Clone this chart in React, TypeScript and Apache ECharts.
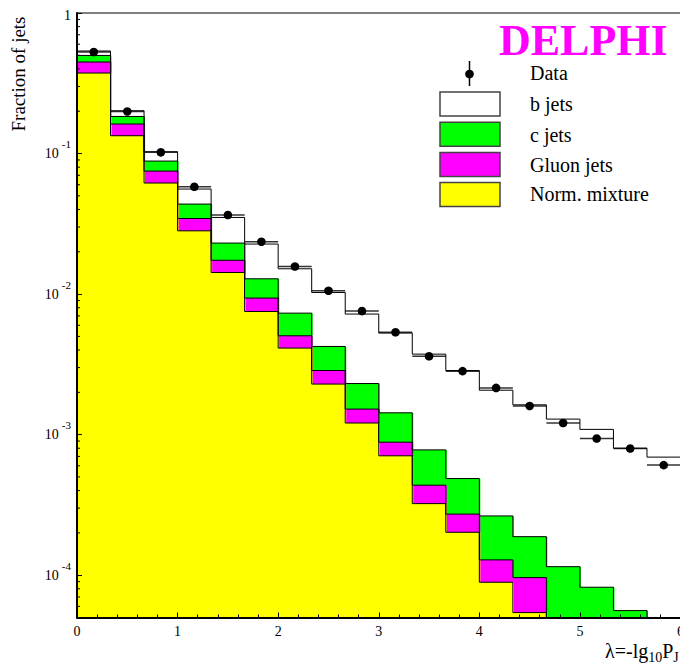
import { useEffect, useRef } from "react";
import * as echarts from "echarts";

// ---- data ----
const BIN_EDGES = [0, 1 / 3, 2 / 3, 1, 4 / 3, 5 / 3, 2, 7 / 3, 8 / 3, 3, 10 / 3, 11 / 3, 4, 13 / 3, 14 / 3, 5, 16 / 3, 17 / 3, 6];

// cumulative stacks (top of each coloured layer)
const B_JETS_TOTAL = [0.5365, 0.2016, 0.103, 0.0559, 0.0351, 0.0227, 0.01514, 0.01027, 0.00721, 0.00528, 0.00374, 0.00286, 0.00207, 0.00163, 0.00129, 0.00109, 0.000801, 0.000692];
const C_JETS_STACK = [0.499, 0.1836, 0.0884, 0.0437, 0.02307, 0.01285, 0.00732, 0.00424, 0.00231, 0.00143, 0.000779, 0.000487, 0.000264, 0.000188, 0.000115, 0.0000821, 0.000056, null];
const GLUON_STACK = [0.448, 0.1622, 0.075, 0.0345, 0.0174, 0.00937, 0.00505, 0.00286, 0.00152, 0.000884, 0.000437, 0.000272, 0.0001285, 0.0000961, null, null, null, null];
const NORM_MIXTURE = [0.374, 0.1339, 0.0617, 0.0282, 0.01425, 0.00752, 0.00413, 0.00229, 0.00121, 0.000707, 0.000323, 0.000202, 0.0000891, 0.0000542, null, null, null, null];
const DATA_VALUES = [0.528, 0.1993, 0.102, 0.058, 0.0365, 0.0236, 0.01572, 0.01056, 0.00757, 0.00535, 0.00361, 0.00283, 0.00215, 0.0016, 0.00121, 0.000938, 0.000796, 0.000607];

const LEGEND_LABELS = ["Data", "b jets", "c jets", "Gluon jets", "Norm. mixture"];
const Y_MIN = 5e-5;
const Y_MAX = 1;
const X_MIN = 0;
const X_MAX = 6;

const FONT = "Liberation Serif, Times New Roman, serif";
const WHITE = "#ffffff";
const GREEN = "#00ff00";
const MAGENTA = "#ff00ff";
const YELLOW = "#ffff00";

function minorYTicks(): number[] {
  const out: number[] = [];
  for (let e = -5; e <= -1; e++) {
    for (let m = 2; m <= 9; m++) {
      const v = m * Math.pow(10, e);
      if (v > Y_MIN && v < Y_MAX) out.push(v);
    }
  }
  return out;
}

function stepPoints(vals: (number | null)[]) {
  const pts: number[][] = [];
  vals.forEach((v, i) => {
    const y = v == null ? Y_MIN : v;
    pts.push([BIN_EDGES[i], y], [BIN_EDGES[i + 1], y]);
  });
  pts.push([BIN_EDGES[vals.length], Y_MIN]);
  return pts;
}

function fillSeries(vals: (number | null)[], color: string) {
  const data: number[][] = [];
  vals.forEach((v, i) => {
    if (v != null) data.push([BIN_EDGES[i], BIN_EDGES[i + 1], v]);
  });
  return {
    type: "custom",
    data,
    encode: { x: [0, 1], y: 2 },
    clip: true,
    silent: true,
    renderItem: (_p: any, api: any) => {
      const p0 = api.coord([api.value(0), api.value(2)]);
      const p1 = api.coord([api.value(1), Y_MIN]);
      return {
        type: "rect",
        // widened by 1px so neighbouring bins overlap and leave no seam
        shape: { x: p0[0], y: p0[1], width: p1[0] - p0[0] + 1, height: p1[1] - p0[1] },
        style: { fill: color },
      };
    },
  };
}

function outlineSeries(vals: (number | null)[]) {
  return {
    type: "line",
    data: stepPoints(vals),
    symbol: "none",
    showSymbol: false,
    silent: true,
    clip: true,
    lineStyle: { color: "#000", width: 1 },
  };
}

export default function App() {
  const ref = useRef<HTMLDivElement>(null);

  useEffect(() => {
    if (!ref.current) return;
    const chart = echarts.init(ref.current, undefined, { renderer: "svg" });

    const dataPoints = DATA_VALUES.map((v, i) => [
      (BIN_EDGES[i] + BIN_EDGES[i + 1]) / 2,
      v,
      BIN_EDGES[i],
      BIN_EDGES[i + 1],
    ]);

    const legendBoxes = [WHITE, GREEN, MAGENTA, YELLOW];
    const legendTextY = [73, 104, 135, 165, 194];

    const graphic: any[] = [
      {
        type: "text",
        x: 499,
        y: 40.5,
        style: {
          text: "DELPHI",
          fill: MAGENTA,
          font: `bold 44px ${FONT}`,
          lineHeight: 36,
          verticalAlign: "middle",
          align: "left",
        },
        z: 20,
      },
      {
        type: "line",
        shape: { x1: 469.5, y1: 61, x2: 469.5, y2: 86 },
        style: { stroke: "#000", lineWidth: 1.5 },
        z: 20,
      },
      {
        type: "circle",
        shape: { cx: 469.5, cy: 74, r: 4.3 },
        style: { fill: "#000" },
        z: 20,
      },
      ...legendBoxes.map((c, i) => ({
        type: "rect",
        shape: { x: 440, y: 92 + i * 30.2, width: 60, height: 24 },
        style: { fill: c, stroke: "#444", lineWidth: 1.5 },
        z: 20,
      })),
      ...LEGEND_LABELS.map((t, i) => ({
        type: "text",
        x: 530,
        y: legendTextY[i],
        style: { text: t, fill: "#000", font: `20px ${FONT}`, verticalAlign: "middle", align: "left" },
        z: 20,
      })),
      {
        type: "text",
        x: 18,
        y: 74,
        rotation: Math.PI / 2,
        style: { text: "Fraction of jets", fill: "#000", font: `19px ${FONT}`, align: "center", verticalAlign: "middle" },
        z: 20,
      },
      {
        type: "text",
        x: 605,
        y: 646,
        style: {
          text: "{n|λ=-lg}{s|10}{n|P}{s|J}",
          verticalAlign: "top",
          align: "left",
          rich: {
            n: { fontFamily: FONT, fontSize: 20, lineHeight: 20, padding: [0, 0, 11, 0], fill: "#000" },
            s: { fontFamily: FONT, fontSize: 14, lineHeight: 14, padding: [10, 0, 7, 0], fill: "#000" },
          },
        },
        z: 20,
      },
    ];

    const option: any = {
      animation: false,
      backgroundColor: "#fff",
      grid: {
        left: 77,
        top: 13,
        width: 603.5,
        height: 604.5,
        outerBoundsMode: "none",
        containLabel: false,
        show: true,
        borderColor: "#000",
        borderWidth: 1,
        backgroundColor: "transparent",
      },
      xAxis: {
        type: "value",
        min: X_MIN,
        max: X_MAX,
        interval: 1,
        z: 10,
        axisLine: { show: true, onZero: false, lineStyle: { color: "#000", width: 2 } },
        axisTick: { show: true, inside: true, length: 5, lineStyle: { color: "#000", width: 1 } },
        minorTick: { show: true, splitNumber: 5, length: 3, lineStyle: { color: "#000", width: 1 } },
        splitLine: { show: false },
        minorSplitLine: { show: false },
        axisLabel: { color: "#000", fontFamily: FONT, fontSize: 14, margin: 7 },
      },
      yAxis: {
        type: "log",
        logBase: 10,
        min: Y_MIN,
        max: Y_MAX,
        z: 10,
        axisLine: { show: true, onZero: false, lineStyle: { color: "#000", width: 2 } },
        axisTick: { show: true, inside: true, length: 5, lineStyle: { color: "#000", width: 1 } },
        splitLine: { show: false },
        axisLabel: {
          margin: 6,
          formatter: (v: number) => {
            const e = Math.log10(v);
            const r = Math.round(e);
            if (Math.abs(e - r) > 1e-6) return "";
            if (r === 0) return "{one|1}";
            return `{b|10}{s|${r}}`;
          },
          rich: {
            b: { fontFamily: FONT, fontSize: 14, lineHeight: 14, padding: [8, 0, 8, 0], color: "#000" },
            s: { fontFamily: FONT, fontSize: 11, lineHeight: 11, padding: [0, 0, 19, 3], color: "#000" },
            one: { fontFamily: FONT, fontSize: 14, lineHeight: 14, padding: [4, 0, 0, 0], color: "#000" },
          },
        },
      },
      series: [
        fillSeries(B_JETS_TOTAL, WHITE),
        outlineSeries(B_JETS_TOTAL),
        fillSeries(C_JETS_STACK, GREEN),
        outlineSeries(C_JETS_STACK),
        fillSeries(GLUON_STACK, MAGENTA),
        outlineSeries(GLUON_STACK),
        fillSeries(NORM_MIXTURE, YELLOW),
        outlineSeries(NORM_MIXTURE),
        {
          type: "custom",
          data: dataPoints,
          encode: { x: [0, 2, 3], y: 1 },
          clip: true,
          silent: true,
          renderItem: (_p: any, api: any) => {
            const c = api.coord([api.value(0), api.value(1)]);
            const a = api.coord([api.value(2), api.value(1)]);
            const b = api.coord([api.value(3), api.value(1)]);
            return {
              type: "group",
              children: [
                { type: "line", shape: { x1: a[0], y1: a[1], x2: b[0], y2: b[1] }, style: { stroke: "#333", lineWidth: 1.5 } },
                { type: "circle", shape: { cx: c[0], cy: c[1], r: 4.3 }, style: { fill: "#000" } },
              ],
            };
          },
        },
        {
          type: "custom",
          data: minorYTicks().map((v) => [X_MIN, v]),
          encode: { x: 0, y: 1 },
          silent: true,
          z: 12,
          renderItem: (_p: any, api: any) => {
            const p = api.coord([api.value(0), api.value(1)]);
            return {
              type: "line",
              shape: { x1: p[0], y1: p[1], x2: p[0] + 3, y2: p[1] },
              style: { stroke: "#000", lineWidth: 1 },
            };
          },
        },
      ],
      graphic,
    };

    chart.setOption(option);
    return () => chart.dispose();
  }, []);

  return (
    <div
      ref={ref}
      style={{ position: "absolute", left: 0, top: 0, width: 680, height: 668 }}
    />
  );
}
